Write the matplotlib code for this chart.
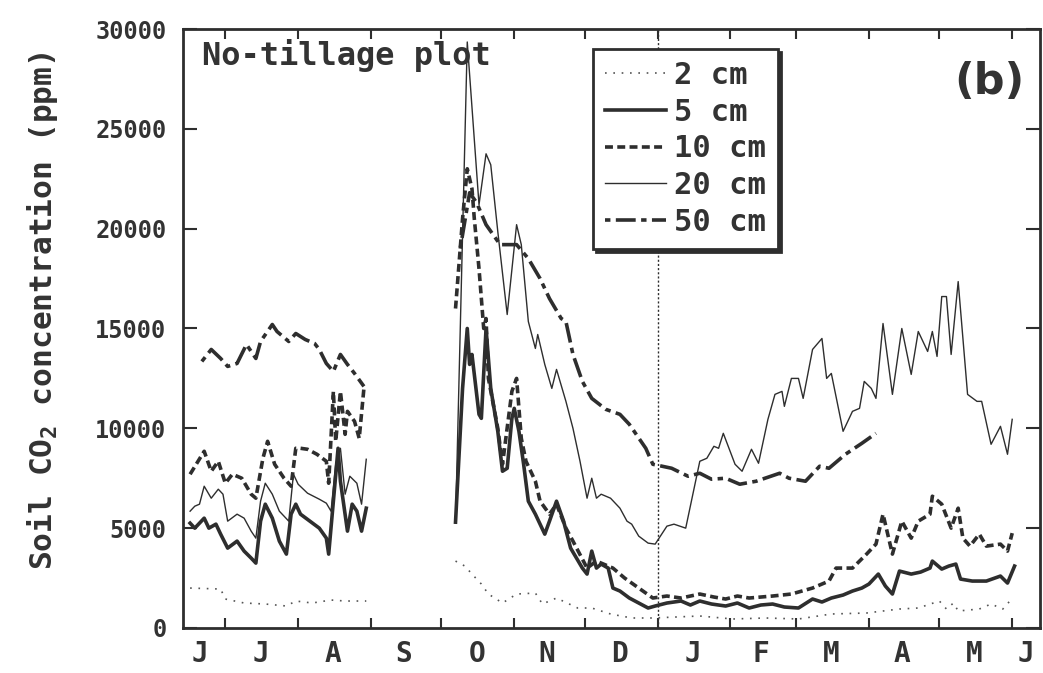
import matplotlib.pyplot as plt
import numpy as np

# x values are days counted from 1 June of the first year
# summer period (June - August)
d2_sum = [15, 28, 30, 38, 47, 56, 60, 67, 75, 81, 90]
v2_sum = [2000, 1950, 1450, 1250, 1200, 1100, 1350, 1250, 1400, 1350, 1350]

d5_sum = [15, 17, 21, 23, 26, 28, 31, 35, 38, 41, 43, 45, 47, 50, 53, 56, 58, 60,
          62, 66, 70, 73, 74, 76, 78, 79, 82, 84, 86, 88, 90]
v5_sum = [5250, 5000, 5500, 5000, 5200, 4700, 4000, 4350, 3850, 3500, 3250, 5350,
          6200, 5500, 4350, 3700, 5700, 6200, 5700, 5350, 5000, 4500, 3700, 6350,
          9000, 7350, 4850, 6200, 5850, 4850, 6000]

d10_sum = [15, 21, 24, 27, 30, 33, 37, 41, 43, 46, 48, 51, 55, 58, 60, 62, 65, 69,
           73, 74, 76, 77, 79, 81, 82, 85, 87, 89]
v10_sum = [7700, 8850, 7850, 8350, 7250, 7700, 7500, 6700, 6500, 8500, 9350, 8200,
           7500, 7100, 9000, 9000, 8950, 8700, 8350, 7250, 11850, 9350, 11850, 9700,
           10850, 10350, 9500, 12000]

d20_sum = [15, 17, 19, 21, 24, 27, 29, 31, 35, 38, 41, 43, 45, 47, 50, 53, 57, 59,
           61, 65, 70, 73, 75, 77, 79, 81, 83, 86, 88, 90]
v20_sum = [5850, 6100, 6200, 7100, 6500, 6950, 6700, 5350, 5700, 5500, 4850, 4500,
           6350, 7250, 6700, 5850, 5350, 7700, 7200, 6750, 6450, 6250, 5850, 8200,
           9000, 6700, 7600, 7250, 6200, 8450]

d50_sum = [20, 24, 28, 31, 35, 39, 43, 45, 50, 52, 57, 60, 64, 68, 70, 73, 76, 79,
           82, 85, 89]
v50_sum = [13350, 13950, 13500, 13100, 13250, 14200, 13500, 14350, 15200, 14850,
           14350, 14750, 14450, 14250, 13950, 13250, 12850, 13700, 13200, 12750, 12100]

# autumn - spring period (October - June)
d2_win = [128, 132, 135, 139, 142, 148, 154, 162, 165, 171, 180, 186, 194, 203, 212,
          232, 246, 260, 274, 288, 303, 317, 325, 334, 337, 340, 342, 351, 356, 361, 364]
v2_win = [3350, 3100, 2700, 2200, 1700, 1250, 1700, 1750, 1200, 1500, 1000, 1000, 700,
          500, 500, 600, 450, 500, 450, 700, 750, 950, 1000, 1350, 950, 1250, 850,
          950, 1200, 950, 1350]

d5_win = [128, 131, 133, 134, 135, 138, 139, 141, 143, 146, 148, 150, 152, 153, 155,
          157, 159, 162, 166, 168, 171, 174, 177, 182, 184, 186, 188, 190, 193, 195,
          198, 202, 206, 210, 213, 218, 224, 228, 232, 237, 243, 248, 253, 258, 263,
          268, 274, 280, 284, 288, 293, 297, 301, 304, 308, 311, 314, 317, 322, 326,
          330, 331, 335, 338, 341, 343, 348, 354, 360, 363, 366]
v5_win = [5300, 12000, 15000, 13200, 13700, 10700, 10500, 15000, 12000, 9850, 7850,
          8000, 10500, 11000, 9850, 8200, 6350, 5700, 4700, 5350, 6350, 5350, 4000,
          3000, 2700, 3850, 3000, 3200, 3000, 2000, 1850, 1500, 1250, 1000, 1100,
          1250, 1350, 1150, 1350, 1200, 1100, 1250, 1000, 1150, 1200, 1050, 1000,
          1450, 1300, 1500, 1650, 1850, 2000, 2200, 2700, 2100, 1700, 2850, 2700,
          2800, 3000, 3350, 2950, 3100, 3200, 2450, 2350, 2350, 2600, 2250, 3100]

d10_win = [128, 131, 133, 135, 136, 138, 140, 141, 142, 146, 148, 152, 154, 156, 158,
           162, 164, 168, 171, 175, 178, 184, 188, 195, 200, 206, 212, 218, 224, 232,
           238, 243, 248, 253, 258, 263, 271, 280, 287, 290, 297, 303, 307, 310, 314,
           318, 322, 325, 330, 331, 335, 339, 342, 344, 347, 351, 354, 360, 363, 365]
v10_win = [16000, 20500, 23000, 22000, 20500, 18000, 15000, 15500, 12500, 10000, 8200,
           11850, 12500, 9500, 8350, 7350, 6350, 5700, 6200, 5000, 4350, 3000, 3350,
           3000, 2500, 2000, 1500, 1600, 1500, 1700, 1550, 1450, 1600, 1500, 1550,
           1600, 1700, 2000, 2350, 3000, 3000, 3700, 4200, 5700, 3700, 5350, 4500,
           5350, 5700, 6600, 6200, 5000, 6000, 4500, 4100, 4700, 4100, 4200, 3850, 4750]

d20_win = [128, 133, 138, 141, 143, 146, 150, 154, 156, 159, 162, 163, 166, 169, 171,
           175, 178, 181, 184, 186, 188, 190, 194, 198, 201, 203, 206, 210, 213, 218,
           221, 226, 232, 235, 238, 240, 242, 247, 250, 254, 257, 261, 264, 267, 268,
           271, 274, 276, 280, 284, 286, 288, 293, 297, 300, 302, 305, 307, 310, 314,
           318, 322, 325, 329, 331, 333, 335, 337, 339, 342, 346, 350, 352, 356, 360,
           363, 365]
v20_win = [5250, 29350, 21200, 23750, 23200, 19850, 15700, 20200, 19200, 15350, 14000,
           14700, 13200, 12000, 12950, 11350, 10000, 8350, 6500, 7500, 6500, 6700,
           6500, 6000, 5350, 5200, 4600, 4250, 4200, 5100, 5200, 5000, 8350, 8500,
           9100, 9000, 9750, 8200, 7850, 8950, 8250, 10450, 11700, 11850, 11100, 12500,
           12500, 11500, 13950, 14500, 12500, 12750, 9850, 10850, 11000, 12350, 12000,
           11500, 15250, 11700, 15000, 12700, 14850, 13850, 14850, 13600, 16600, 16600,
           13700, 17350, 11700, 11350, 11350, 9200, 10100, 8700, 10450]

d50_win = [130, 134, 137, 141, 147, 154, 159, 164, 168, 173, 175, 178, 182, 186, 192,
           198, 202, 209, 212, 220, 227, 232, 237, 243, 249, 256, 266, 270, 277, 283,
           287, 294, 301, 307]
v50_win = [19000, 21800, 21300, 20200, 19200, 19200, 18500, 17500, 16500, 15500, 15350,
           13700, 12350, 11500, 10950, 10700, 10200, 9000, 8200, 8000, 7600, 7750, 7450,
           7500, 7200, 7350, 7750, 7500, 7350, 8100, 8000, 8700, 9250, 9750]

month_edges = [30, 61, 92, 122, 153, 183, 214, 245, 273, 304, 334, 365]
month_pos = [19, 45, 76, 106, 137, 167, 198, 229, 258, 288, 318, 349, 371]
month_labels = ['J', 'J', 'A', 'S', 'O', 'N', 'D', 'J', 'F', 'M', 'A', 'M', 'J']

depth_labels = ['2 cm', '5 cm', '10 cm', '20 cm', '50 cm']

ink = '#2e2e2e'
txt = '#333333'
mono = 'DejaVu Sans Mono'
plt.rcParams['font.family'] = mono
plt.rcParams['font.weight'] = 'bold'
plt.rcParams['mathtext.fontset'] = 'custom'
plt.rcParams['mathtext.rm'] = 'DejaVu Sans Mono:bold'
plt.rcParams['mathtext.default'] = 'rm'

fig = plt.figure(figsize=(10.43, 6.73), dpi=100)
ax = fig.add_axes([0.1755, 0.0669, 0.822, 0.890])

styles = [
    dict(lw=1.2, ls=(0, (1, 4)), color='#555555'),
    dict(lw=2.6, ls='-', color=ink),
    dict(lw=2.6, ls=(0, (2.2, 1.2)), color=ink),
    dict(lw=1.0, ls='-', color=ink),
    dict(lw=2.6, ls=(0, (1.5, 1.5, 5.5, 1.5)), color=ink),
]
summer = [(d2_sum, v2_sum), (d5_sum, v5_sum), (d10_sum, v10_sum),
          (d20_sum, v20_sum), (d50_sum, v50_sum)]
winter = [(d2_win, v2_win), (d5_win, v5_win), (d10_win, v10_win),
          (d20_win, v20_win), (d50_win, v50_win)]

handles = []
for (xs, ys), (xw, yw), st, lab in zip(summer, winter, styles, depth_labels):
    h, = ax.plot(xs, ys, label=lab, **st)
    ax.plot(xw, yw, **st)
    handles.append(h)

# start of the new year
ax.axvline(214, color=ink, lw=1.0, ls=(0, (1.5, 1.5)), zorder=1)

ax.set_xlim(12, 377)
ax.set_ylim(0, 30000)

ax.set_xticks(month_edges)
ax.set_xticklabels([])
ax.set_xticks(month_pos, minor=True)
ax.set_xticklabels(month_labels, minor=True, fontsize=20, color=txt)
ax.tick_params(axis='x', which='major', direction='in', length=7, width=1.5,
               top=True, color=ink)
ax.tick_params(axis='x', which='minor', length=0, pad=9)

ax.set_yticks(np.arange(0, 30001, 5000))
ax.tick_params(axis='y', direction='in', length=10, width=1.5, right=True,
               labelsize=17, labelcolor=txt, pad=12, color=ink)

for sp in ax.spines.values():
    sp.set_linewidth(2)
    sp.set_color(ink)

ax.set_ylabel('Soil CO$_2$ concentration (ppm)', fontsize=22.5, color=txt,
              fontweight='bold')
ax.yaxis.set_label_coords(-0.143, 0.53)

ax.text(0.022, 0.955, 'No-tillage plot', transform=ax.transAxes, fontsize=23,
        color=txt, ha='left', va='center')
ax.text(0.981, 0.912, '(b)', transform=ax.transAxes, fontsize=31,
        family='DejaVu Sans', fontweight='bold', color=txt, ha='right', va='center')

leg = ax.legend(handles=handles, loc='upper left', bbox_to_anchor=(0.478, 0.967),
                borderaxespad=0, fontsize=22, handlelength=2.0, handletextpad=0.25,
                labelspacing=0.25, borderpad=0.4, fancybox=False,
                shadow={'color': ink, 'alpha': 1.0})
leg.get_frame().set_edgecolor(ink)
leg.get_frame().set_linewidth(2)
for t in leg.get_texts():
    t.set_color(txt)

fig.savefig('out.png', dpi=100)
